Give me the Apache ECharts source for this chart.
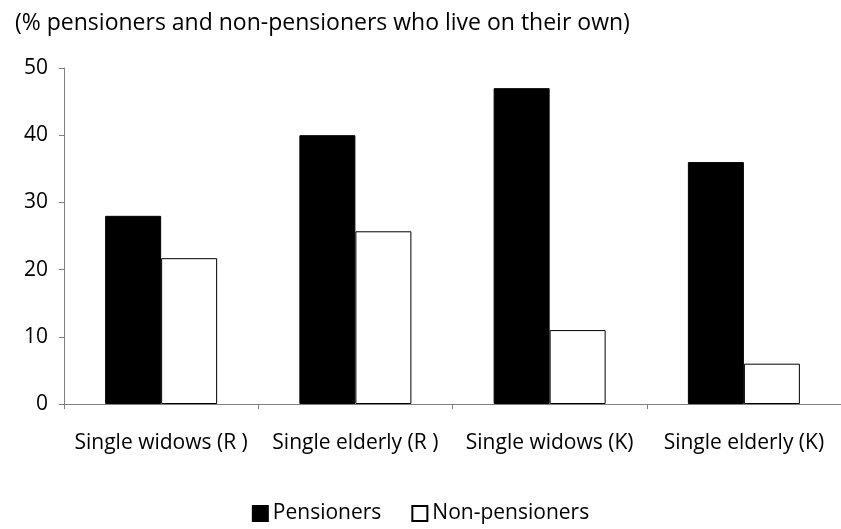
<!DOCTYPE html>
<html><head><meta charset="utf-8">
<script src="https://cdn.jsdelivr.net/npm/echarts@6/dist/echarts.min.js"></script>
<style>html,body{margin:0;padding:0;background:#fff}#c{width:841px;height:529px}</style>
</head><body><div id="c"></div>
<script>
var categories = ['Single widows (R )', 'Single elderly (R )', 'Single widows (K)', 'Single elderly (K)'];
var pensioners = [28, 40, 47, 36];
var nonPensioners = [21.7, 25.7, 11, 6];
var font = '"Open Sans", sans-serif';

var chart = echarts.init(document.getElementById('c'));
chart.setOption({
    animation: false,
    title: {
        text: '(% pensioners and non-pensioners who live on their own)',
        left: 10, top: 7,
        textStyle: { fontFamily: font, fontSize: 23, fontWeight: 'normal', color: '#000' }
    },
    legend: {
        bottom: 0, left: 'center', itemWidth: 15, itemHeight: 15, itemGap: 30,
        textStyle: { fontFamily: font, fontSize: 21, color: '#000' },
        data: [{ name: 'Pensioners', icon: 'rect' }, { name: 'Non-pensioners', icon: 'rect' }]
    },
    grid: { left: 64, right: 0, top: 68, bottom: 125 },
    xAxis: {
        type: 'category', data: categories,
        axisLine: { lineStyle: { color: '#808080' } },
        axisTick: { show: true, length: 5, lineStyle: { color: '#808080' } },
        axisLabel: { fontFamily: font, fontSize: 21, color: '#000', margin: 29, interval: 0 }
    },
    yAxis: {
        type: 'value', min: 0, max: 50, interval: 10,
        axisLine: { show: true, lineStyle: { color: '#808080' } },
        axisTick: { show: true, length: 5, lineStyle: { color: '#808080' } },
        splitLine: { show: false },
        axisLabel: { fontFamily: font, fontSize: 21, color: '#000', margin: 16 }
    },
    series: [
        { name: 'Pensioners', type: 'bar', data: pensioners, barWidth: 56, barGap: 0,
          itemStyle: { color: '#000', borderColor: '#000', borderWidth: 1 } },
        { name: 'Non-pensioners', type: 'bar', data: nonPensioners, barWidth: 56,
          itemStyle: { color: '#fff', borderColor: '#000', borderWidth: 1 } }
    ]
});
</script>
</body></html>
